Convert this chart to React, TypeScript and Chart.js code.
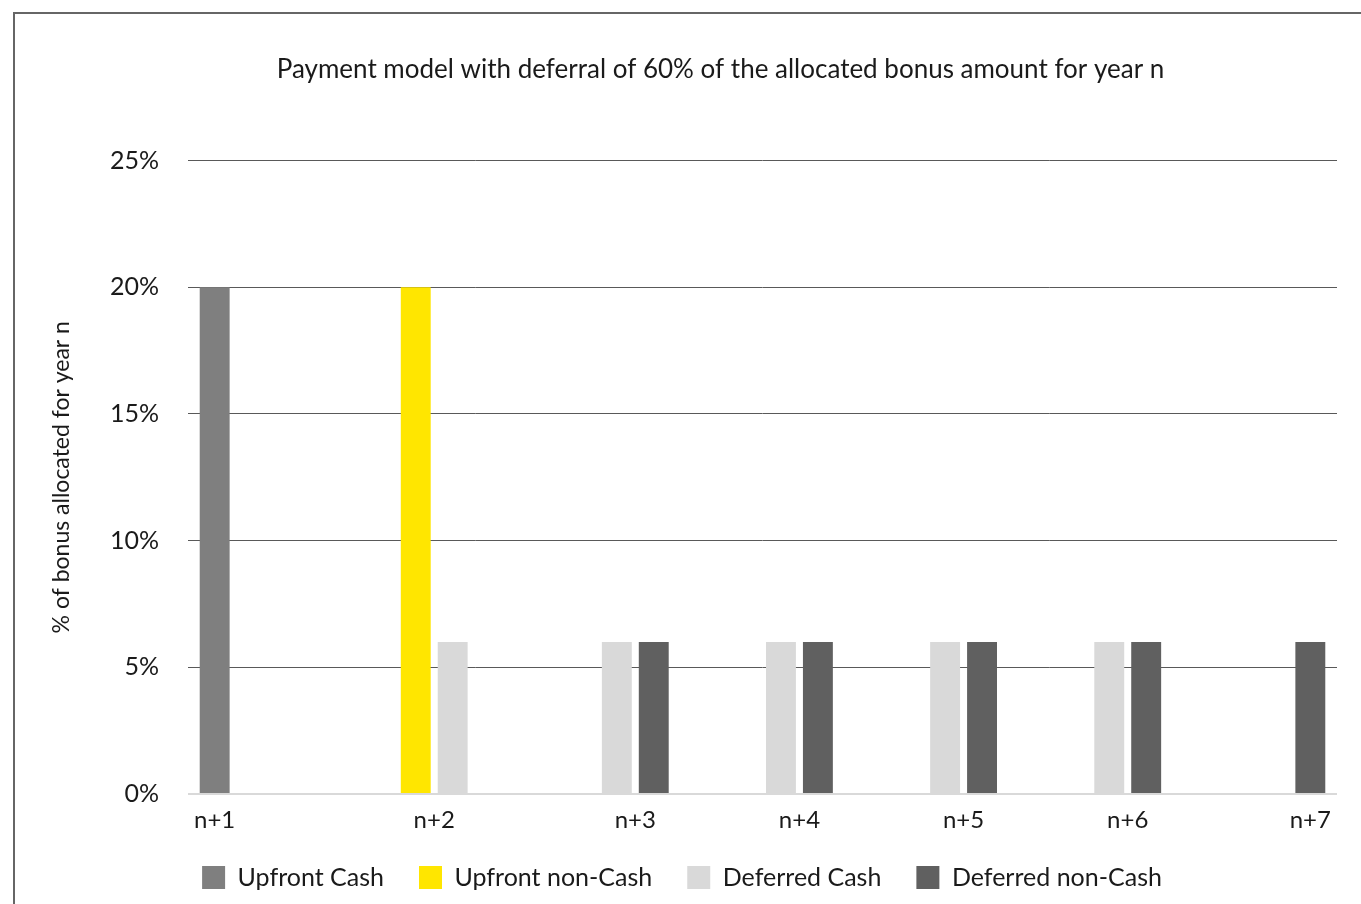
import { useEffect, useRef } from "react";
import { Chart, registerables } from "chart.js";

Chart.register(...registerables);

// ---- data ----
const categories = ["n+1", "n+2", "n+3", "n+4", "n+5", "n+6", "n+7"];
const upfrontCash = [20, null, null, null, null, null, null];
const upfrontNonCash = [null, 20, null, null, null, null, null];
const deferredCash = [null, 6, 6, 6, 6, 6, null];
const deferredNonCash = [null, null, 6, 6, 6, 6, 6];
const seriesNames = ["Upfront Cash", "Upfront non-Cash", "Deferred Cash", "Deferred non-Cash"];
const yTicks = [0, 5, 10, 15, 20, 25];
const chartTitle = "Payment model with deferral of 60% of the allocated bonus amount for year n";
const yAxisTitle = "% of bonus allocated for year n";

// ---- styling ----
const seriesColors = ["#7f7f7f", "#ffe600", "#d9d9d9", "#606060"];
const FONT_FAMILY = "Lato, 'Noto Sans', sans-serif";
const TEXT_COLOR = "#1a1a1a";
const CATEGORY_PCT = 0.9;
const BAR_PCT = 0.81;
const W = 1361;
const H = 904;

const series = [upfrontCash, upfrontNonCash, deferredCash, deferredNonCash];

// Each year label sits under the centre of the bars that year actually has.
const labelAnchors = categories.map((_, i) => {
  const slots = series
    .map((s, k) => (s[i] != null ? k : -1))
    .filter((k) => k >= 0);
  const mean = slots.reduce((a, b) => a + b, 0) / slots.length;
  return i + (mean - (series.length - 1) / 2) * (CATEGORY_PCT / series.length);
});

// Moves the title block right of the legend's centre line.
const titleShift = {
  id: "titleShift",
  afterLayout(chart: any) {
    const t = chart.titleBlock;
    if (t) t.left += 77;
  },
};

export default function App() {
  const canvasRef = useRef<HTMLCanvasElement | null>(null);

  useEffect(() => {
    const canvas = canvasRef.current;
    if (!canvas) return;
    const font = (size: number) => ({ family: FONT_FAMILY, size, weight: "normal" as const });

    const chart = new Chart(canvas, {
      type: "bar",
      data: {
        labels: categories,
        datasets: series.map((data, k) => ({
          label: seriesNames[k],
          data,
          backgroundColor: seriesColors[k],
          borderWidth: 0,
          categoryPercentage: CATEGORY_PCT,
          barPercentage: BAR_PCT,
          xAxisID: "x",
          yAxisID: "y",
        })),
      },
      options: {
        animation: false,
        responsive: false,
        devicePixelRatio: 1,
        events: [],
        layout: { padding: { left: 27, right: 24, top: 0, bottom: 4 } },
        plugins: {
          title: {
            display: true,
            text: chartTitle,
            color: TEXT_COLOR,
            font: font(26),
            padding: { top: 54.4, bottom: 74.9 },
          },
          legend: {
            position: "bottom",
            labels: {
              boxWidth: 23,
              boxHeight: 23,
              padding: 35,
              color: TEXT_COLOR,
              font: font(25),
            },
          },
          tooltip: { enabled: false },
        },
        scales: {
          // category axis that places the bars; it only reserves the band under the plot
          x: {
            display: true,
            offset: true,
            grid: { display: false },
            border: { display: false },
            ticks: { display: false },
            afterFit: (scale: any) => {
              scale.height = 36;
            },
          },
          // year labels, hung from the 0% line
          xl: {
            type: "linear",
            position: { y: 0 },
            offset: false,
            min: -0.5,
            max: categories.length - 0.5,
            grid: { display: false, drawTicks: false },
            border: { display: false },
            afterBuildTicks: (scale: any) => {
              scale.ticks = labelAnchors.map((v) => ({ value: v }));
            },
            ticks: {
              callback: (_v: any, i: number) => categories[i],
              color: TEXT_COLOR,
              font: font(24),
              padding: 11.6,
              maxRotation: 0,
              autoSkip: false,
            },
          },
          y: {
            min: yTicks[0],
            max: yTicks[yTicks.length - 1],
            border: { display: false },
            grid: {
              drawTicks: false,
              color: (ctx: any) => (ctx.tick && ctx.tick.value === 0 ? "#d9d9d9" : "#595959"),
              lineWidth: (ctx: any) => (ctx.tick && ctx.tick.value === 0 ? 2 : 1),
            },
            afterFit: (scale: any) => {
              scale.width = 161;
            },
            ticks: {
              stepSize: yTicks[1] - yTicks[0],
              callback: (v: any) => `${v}%`,
              color: TEXT_COLOR,
              font: font(25),
              padding: 29,
            },
            title: {
              display: true,
              text: yAxisTitle,
              color: TEXT_COLOR,
              font: font(23),
              padding: { top: 21.2, bottom: 0 },
            },
          },
        },
      },
      plugins: [titleShift],
    });

    return () => chart.destroy();
  }, []);

  return (
    <div
      style={{
        position: "absolute",
        left: 0,
        top: 0,
        width: W,
        height: H,
        overflow: "hidden",
        background: "#ffffff",
      }}
    >
      <div
        style={{
          position: "absolute",
          left: 13,
          top: 12,
          width: W - 13,
          height: H - 12,
          borderTop: "2px solid #666666",
          borderLeft: "2px solid #666666",
          boxSizing: "border-box",
        }}
      />
      <canvas
        ref={canvasRef}
        width={W}
        height={H}
        style={{ position: "absolute", left: 0, top: 0, width: W, height: H, display: "block" }}
      />
    </div>
  );
}
